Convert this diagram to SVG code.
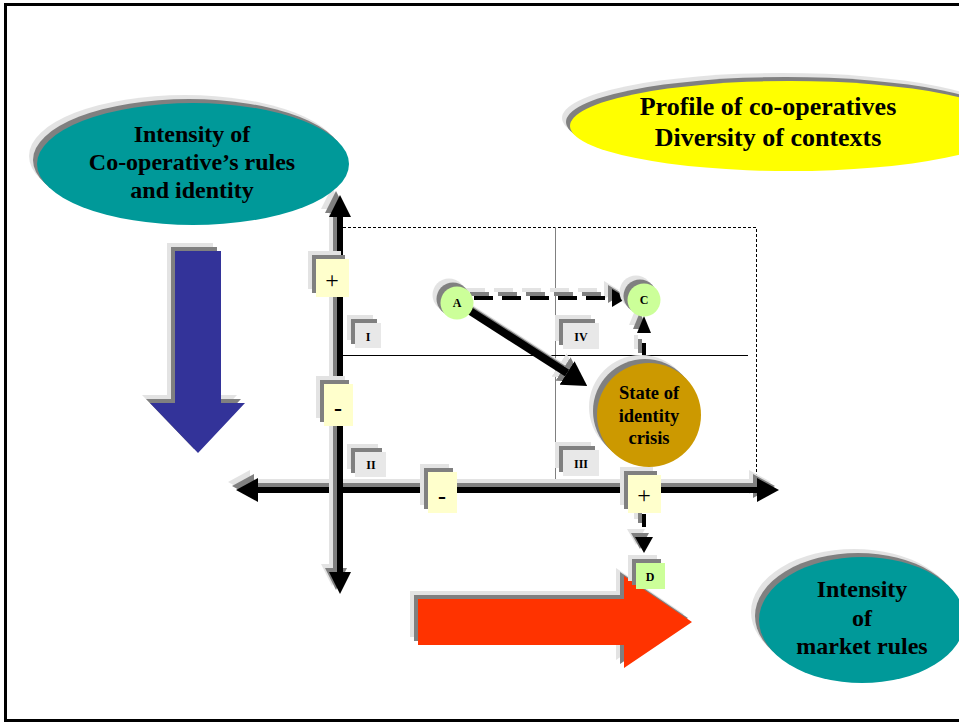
<svg xmlns="http://www.w3.org/2000/svg" width="959" height="722" viewBox="0 0 959 722">
<defs>
<filter id="sh" filterUnits="userSpaceOnUse" x="0" y="0" width="959" height="722" color-interpolation-filters="sRGB">
<feOffset in="SourceAlpha" dx="-8" dy="-8" result="o2"/>
<feFlood flood-color="#e3e3e3" result="f2"/>
<feComposite in="f2" in2="o2" operator="in" result="s2"/>
<feOffset in="SourceAlpha" dx="-4" dy="-4" result="o1"/>
<feFlood flood-color="#808080" result="f1"/>
<feComposite in="f1" in2="o1" operator="in" result="s1"/>
<feMerge><feMergeNode in="s2"/><feMergeNode in="s1"/><feMergeNode in="SourceGraphic"/></feMerge>
</filter>
<marker id="axv" markerUnits="userSpaceOnUse" viewBox="0 0 22 22" markerWidth="22" markerHeight="22" refX="0" refY="11" orient="auto-start-reverse"><path d="M0,0 L22,11 L0,22 Z" fill="#000"/></marker>
<marker id="axh" markerUnits="userSpaceOnUse" viewBox="0 0 22 24" markerWidth="22" markerHeight="24" refX="0" refY="12" orient="auto-start-reverse"><path d="M0,0 L22,12 L0,24 Z" fill="#000"/></marker>
<marker id="ahAC" markerUnits="userSpaceOnUse" viewBox="0 0 15 18" markerWidth="15" markerHeight="18" refX="0" refY="9" orient="auto"><path d="M0,0 L15,9 L0,18 Z" fill="#000"/></marker>
<marker id="ahBig" markerUnits="userSpaceOnUse" viewBox="0 0 24 28" markerWidth="24" markerHeight="28" refX="0" refY="14" orient="auto"><path d="M0,0 L24,14 L0,28 Z" fill="#000"/></marker>
<marker id="ahUp" markerUnits="userSpaceOnUse" viewBox="0 0 17 14" markerWidth="17" markerHeight="14" refX="0" refY="7" orient="auto"><path d="M0,0 L17,7 L0,14 Z" fill="#000"/></marker>
<marker id="ahDn" markerUnits="userSpaceOnUse" viewBox="0 0 16 18" markerWidth="16" markerHeight="18" refX="0" refY="9" orient="auto"><path d="M0,0 L16,9 L0,18 Z" fill="#000"/></marker>
</defs>
<style>
.t{font-family:"Liberation Serif","Times New Roman",serif;font-weight:bold;fill:#000;text-anchor:middle}
.big{font-size:24px}
.yel{font-size:26px}
.st{font-size:18.5px}
.sm{font-size:12px}
.pm{font-family:"Liberation Serif","Times New Roman",serif;font-size:24px;text-anchor:middle;fill:#000}
.lbl{fill:#e8e8e8}
.pmbox{fill:#ffffcc}
.grn{fill:#ccff99}
.ax{fill:none;stroke:#000;stroke-width:6}
.dash{fill:none;stroke:#000;stroke-width:4}
</style>
<rect x="0" y="0" width="959" height="722" fill="#fff"/>
<rect x="5.5" y="4.5" width="970" height="716" fill="none" stroke="#000" stroke-width="3"/>

<g id="grid">
<path d="M343,227.5 H756.5 V478" fill="none" stroke="#000" stroke-width="1" stroke-dasharray="3 2"/>
<path d="M555.5,227 V485" fill="none" stroke="#808080" stroke-width="1"/>
<path d="M343,355.5 H748" fill="none" stroke="#000" stroke-width="1"/>
</g>

<g id="arrow-blue"><polygon points="175,251 221,251 221,403 245,403 198,453 150,403 175,403" fill="#333399" filter="url(#sh)"/></g>
<g id="arrow-red"><polygon points="418,599 624,599 624,576 692,622 624,668 624,645 418,645" fill="#ff3300" filter="url(#sh)"/></g>

<g id="connectors">
<path class="ax" d="M258,490 L757,490" marker-start="url(#axh)" marker-end="url(#axh)" filter="url(#sh)"/>
<path class="ax" d="M340,572 L340,217" marker-start="url(#axv)" marker-end="url(#axv)" filter="url(#sh)"/>
<path class="dash" d="M474,298 L612,298" stroke-dasharray="19 9" marker-end="url(#ahAC)" filter="url(#sh)"/>
<path fill="none" stroke="#000" stroke-width="8" d="M470,311 L567,373" marker-end="url(#ahBig)" filter="url(#sh)"/>
<path class="dash" d="M644,357 L644,333" stroke-dasharray="14 12" marker-end="url(#ahUp)" filter="url(#sh)"/>
<path class="dash" d="M644,514 L644,537" stroke-dasharray="13 10" marker-end="url(#ahDn)" filter="url(#sh)"/>
</g>

<g id="ellipse-coop">
<ellipse cx="193" cy="164" rx="156" ry="61" fill="#009999" filter="url(#sh)"/>
<text class="t big" x="192" y="142">Intensity of</text>
<text class="t big" x="192" y="170">Co-operative’s rules</text>
<text class="t big" x="192" y="198">and identity</text>
</g>

<g id="ellipse-profile">
<ellipse cx="790" cy="126" rx="220" ry="45" fill="#ffff00" filter="url(#sh)"/>
<text class="t yel" x="768" y="115">Profile of co-operatives</text>
<text class="t yel" x="768" y="146">Diversity of contexts</text>
</g>

<g id="ellipse-market">
<ellipse cx="862" cy="620" rx="103" ry="63" fill="#009999" filter="url(#sh)"/>
<text class="t big" x="862" y="597">Intensity</text>
<text class="t big" x="862" y="626">of</text>
<text class="t big" x="862" y="654">market rules</text>
</g>

<g id="label-I"><rect class="lbl" x="355" y="323" width="26" height="25" filter="url(#sh)"/><text class="t sm" x="368" y="341">I</text></g>
<g id="label-II"><rect class="lbl" x="355" y="452" width="31" height="25" filter="url(#sh)"/><text class="t sm" x="371" y="469">II</text></g>
<g id="label-III"><rect class="lbl" x="563" y="450" width="36" height="26" filter="url(#sh)"/><text class="t sm" x="581" y="468">III</text></g>
<g id="label-IV"><rect class="lbl" x="563" y="323" width="36" height="26" filter="url(#sh)"/><text class="t sm" x="581" y="341">IV</text></g>

<g id="plus-v"><rect class="pmbox" x="316" y="259" width="33" height="38" filter="url(#sh)"/><text class="pm" x="332" y="288">+</text></g>
<g id="minus-v"><rect class="pmbox" x="324" y="384" width="29" height="42" filter="url(#sh)"/><text class="pm" x="338" y="416" font-weight="bold">-</text></g>
<g id="minus-h"><rect class="pmbox" x="428" y="472" width="29" height="41" filter="url(#sh)"/><text class="pm" x="442" y="504" font-weight="bold">-</text></g>
<g id="plus-h"><rect class="pmbox" x="628" y="475" width="33" height="38" filter="url(#sh)"/><text class="pm" x="644" y="503">+</text></g>

<g id="node-A"><circle class="grn" cx="457" cy="303" r="16.5" filter="url(#sh)"/><text class="t sm" x="457" y="307">A</text></g>
<g id="node-C"><circle class="grn" cx="644" cy="300" r="16.5" filter="url(#sh)"/><text class="t sm" x="644" y="304">C</text></g>
<g id="node-D"><rect class="grn" x="636" y="563" width="29" height="26" filter="url(#sh)"/><text class="t sm" x="650" y="581">D</text></g>

<g id="node-crisis">
<circle cx="649" cy="415" r="52" fill="#cc9900" filter="url(#sh)"/>
<text class="t st" x="649" y="399">State of</text>
<text class="t st" x="649" y="422">identity</text>
<text class="t st" x="649" y="444">crisis</text>
</g>
</svg>
